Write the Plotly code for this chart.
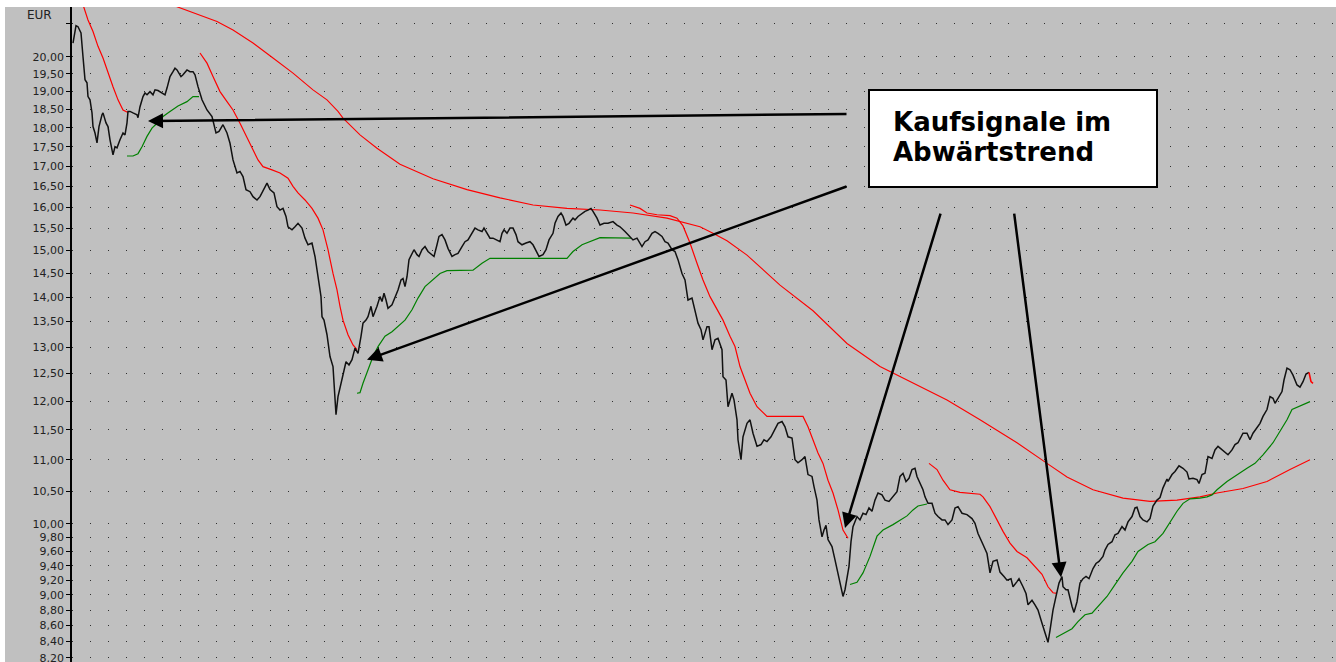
import numpy as np
import plotly.graph_objects as go

# ---------------- data (x = trading-day index, values in EUR) ----------------
price_x = [1,4,6,9,11,13,15,16,18,20,21,23,25,27,30,31,34,36,38,41,43,45,48,51,53,55,56,58,61,65,66,68,71,73,75,78,81,83,86,90,93,95,98,101,103,105,109,111,115,118,121,123,125,126,130,135,140,142,144,147,151,155,158,161,165,168,171,174,178,181,185,188,193,195,198,202,205,208,211,214,216,220,223,226,230,233,236,240,243,246,249,250,252,255,258,261,262,264,266,269,271,274,277,280,283,286,289,291,294,296,299,301,305,308,310,312,314,316,320,323,326,329,331,333,335,337,340,342,345,347,350,353,356,360,362,365,367,370,373,376,380,383,386,390,393,396,400,403,406,410,412,415,418,421,425,428,430,432,435,438,441,444,446,450,454,458,461,465,467,471,474,477,481,483,486,489,491,494,497,501,503,506,510,513,516,519,521,525,528,532,536,541,545,548,553,558,561,565,568,570,573,576,580,583,586,590,593,596,600,603,606,610,613,616,620,623,626,629,631,635,637,640,643,646,650,651,654,656,658,660,662,665,666,669,671,675,678,681,685,689,692,695,699,703,706,710,713,716,720,723,726,730,733,736,740,742,745,747,750,752,754,756,760,763,766,769,771,773,775,777,779,781,785,788,791,794,797,800,803,806,810,813,817,821,825,828,831,834,837,840,843,845,848,851,853,856,860,863,866,870,873,876,880,883,886,890,895,900,903,906,911,915,918,921,925,928,932,935,939,941,945,947,951,954,956,960,963,966,970,973,976,978,981,984,987,990,991,994,996,1000,1002,1005,1008,1011,1014,1017,1021,1024,1027,1031,1033,1036,1040,1043,1046,1050,1053,1056,1060,1063,1065,1068,1071,1075,1078,1081,1085,1088,1091,1095,1096,1100,1103,1107,1111,1115,1117,1121,1125,1127,1130,1133,1136,1140,1143,1146,1150,1153,1156,1160,1163,1166,1169,1171,1175,1178,1181,1185,1188,1191,1195,1198,1201,1203,1206,1210,1212,1215,1218,1221,1225,1228,1231,1234,1237]
price_v = [20.41,20.94,20.91,20.72,20.00,19.33,19.24,18.85,18.76,18.40,18.03,17.86,17.60,18.03,18.35,18.40,18.13,18.03,17.68,17.29,17.50,17.47,17.68,17.86,17.81,18.13,18.44,18.44,18.40,18.35,18.27,18.57,18.85,18.95,18.90,18.99,18.90,19.04,19.02,18.95,18.90,19.09,19.42,19.56,19.66,19.61,19.42,19.47,19.61,19.56,19.56,19.47,19.23,19.13,18.76,18.48,18.30,18.08,17.86,17.90,18.08,17.86,17.59,17.16,16.83,16.87,16.74,16.42,16.37,16.25,16.17,16.25,16.50,16.58,16.42,16.34,16.01,15.93,15.97,15.78,15.54,15.47,15.54,15.62,15.51,15.28,15.13,15.17,14.87,14.43,14.01,13.60,13.53,13.24,12.82,12.63,12.26,11.76,12.08,12.32,12.51,12.72,12.66,12.76,12.98,12.88,13.21,13.47,13.53,13.60,13.81,13.60,13.81,14.01,13.91,14.08,13.94,13.77,13.84,13.98,14.15,14.36,14.39,14.22,14.43,14.80,14.94,15.02,14.91,14.87,15.02,15.09,14.98,14.91,14.87,15.13,15.32,15.36,15.24,15.05,14.87,14.91,14.94,15.09,15.20,15.24,15.39,15.51,15.47,15.43,15.51,15.39,15.28,15.28,15.24,15.20,15.39,15.47,15.39,15.51,15.51,15.36,15.20,15.13,15.17,15.20,15.13,14.94,14.87,14.91,15.02,15.24,15.39,15.62,15.78,15.86,15.78,15.58,15.62,15.74,15.70,15.78,15.86,15.90,15.93,15.97,15.90,15.74,15.58,15.62,15.62,15.66,15.58,15.54,15.43,15.32,15.24,15.28,15.17,15.09,15.20,15.24,15.39,15.43,15.39,15.32,15.20,15.17,15.02,14.98,14.80,14.50,14.36,13.94,13.98,13.74,13.47,13.34,13.14,13.40,13.40,12.95,13.14,13.17,12.95,12.44,12.38,11.90,12.02,12.14,12.02,11.67,11.33,11.00,11.38,11.61,11.67,11.44,11.22,11.25,11.33,11.30,11.38,11.50,11.61,11.64,11.55,11.38,11.36,11.00,10.95,11.00,11.05,10.76,10.73,10.57,10.36,10.06,9.81,9.91,9.98,9.77,9.67,9.48,9.30,9.11,8.98,9.07,9.25,9.39,9.74,9.96,10.11,10.06,10.16,10.14,10.24,10.19,10.36,10.47,10.44,10.36,10.34,10.41,10.49,10.73,10.78,10.65,10.70,10.84,10.86,10.73,10.62,10.52,10.41,10.31,10.31,10.16,10.11,10.06,10.06,9.99,10.06,10.24,10.26,10.16,10.14,10.08,10.01,9.86,9.70,9.57,9.30,9.46,9.48,9.31,9.25,9.20,9.22,9.11,9.18,9.22,9.11,9.02,8.87,8.93,8.87,8.80,8.63,8.50,8.39,8.54,8.80,8.98,9.16,9.25,9.11,9.07,9.07,8.85,8.77,8.91,9.16,9.22,9.25,9.22,9.36,9.43,9.46,9.53,9.62,9.70,9.74,9.84,9.86,9.96,9.91,10.03,10.11,10.24,10.25,10.11,10.06,10.03,10.08,10.27,10.36,10.40,10.55,10.69,10.65,10.76,10.81,10.90,10.86,10.80,10.69,10.70,10.68,10.62,10.76,10.78,11.05,11.02,11.16,11.22,11.16,11.11,11.08,11.16,11.25,11.28,11.38,11.44,11.44,11.33,11.44,11.53,11.61,11.73,11.85,12.08,12.05,11.96,12.05,12.17,12.38,12.60,12.57,12.47,12.29,12.25,12.35,12.49,12.52]
assert len(price_x) == len(price_v), (len(price_x), len(price_v))

# last bar (red)
last_x = [1237, 1239, 1241]
last_v = [12.52, 12.35, 12.32]

# long moving average (red)
ma_x = [104,128,145,161,181,201,221,241,255,266,271,288,305,328,348,361,395,428,461,495,528,561,595,628,641,655,675,690,708,741,775,808,841,875,908,945,975,995,1021,1051,1078,1105,1128,1145,1171,1195,1218,1238]
ma_v = [21.55,21.28,21.07,20.81,20.41,19.96,19.52,19.04,18.76,18.44,18.26,17.81,17.46,17.05,16.82,16.69,16.42,16.22,16.05,15.97,15.93,15.86,15.74,15.54,15.39,15.22,14.90,14.60,14.25,13.72,13.07,12.63,12.32,12.02,11.67,11.28,10.94,10.72,10.52,10.39,10.34,10.36,10.41,10.47,10.54,10.65,10.84,11.00]

# trailing stops in downtrend (red)
dn1_x = [10,16,21,26,31,36,41,46,51,56]
dn1_v = [21.70,21.12,20.76,20.31,19.96,19.52,19.13,18.76,18.48,18.41]
dn2_x = [128,135,141,148,155,161,168,175,181,186,191,200,208,216,221,226,233,240,246,251,256,261,265,268,271,276,281,285]
dn2_v = [20.11,19.81,19.42,18.99,18.71,18.48,18.12,17.76,17.42,17.16,16.99,16.91,16.83,16.70,16.50,16.34,16.17,15.97,15.74,15.47,15.02,14.50,14.15,13.81,13.53,13.24,13.04,12.95]
dn3_x = [558,568,575,585,598,605,611,618,625,631,638,645,651,658,663,668,673,678,685,695,708,731,736,741,746,751,756,761,766,771,776]
dn3_v = [16.05,15.97,15.86,15.82,15.80,15.74,15.56,15.17,14.72,14.36,14.01,13.74,13.53,13.21,13.01,12.63,12.38,12.14,11.90,11.73,11.73,11.73,11.55,11.33,11.11,10.94,10.67,10.47,10.21,9.91,9.79]
dn4_x = [857,865,871,878,888,898,908,911,918,925,931,938,945,955,963,970,976,981,985]
dn4_v = [10.94,10.84,10.67,10.52,10.48,10.47,10.45,10.41,10.26,10.06,9.89,9.72,9.60,9.51,9.39,9.28,9.11,9.03,9.02]

# trailing stops in uptrend (green)
up1_x = [55,61,66,70,75,80,85,91,98,106,115,121,127]
up1_v = [17.26,17.26,17.32,17.50,17.77,17.99,18.12,18.30,18.44,18.59,18.71,18.85,18.85]
up2_x = [285,288,291,296,301,306,313,320,326,333,340,346,353,360,368,375,401,410,418,495,501,510,518,528,559]
up2_v = [12.14,12.15,12.32,12.57,12.82,13.01,13.21,13.30,13.40,13.53,13.74,13.98,14.22,14.36,14.50,14.56,14.57,14.72,14.83,14.83,14.98,15.13,15.20,15.29,15.28]
up3_x = [778,785,791,798,805,811,821,828,835,841,846,855]
up3_v = [9.14,9.17,9.30,9.53,9.82,9.91,9.99,10.06,10.12,10.21,10.27,10.30]
up4_x = [984,991,1000,1006,1013,1020,1026,1035,1043,1051,1060,1066,1076,1083,1091,1098,1105,1111,1118,1128,1135,1140,1145,1155,1165,1175,1183,1191,1201,1210,1215,1220,1226,1233,1238]
up4_v = [8.45,8.50,8.56,8.65,8.74,8.76,8.85,8.98,9.14,9.30,9.46,9.60,9.70,9.74,9.86,10.02,10.19,10.31,10.38,10.39,10.41,10.44,10.52,10.65,10.76,10.86,10.94,11.08,11.28,11.53,11.67,11.85,11.90,11.96,11.99]

# y tick levels and labels
tick_vals = [8.2,8.4,8.6,8.8,9.0,9.2,9.4,9.6,9.8,10.0,10.5,11.0,11.5,12.0,12.5,13.0,13.5,14.0,14.5,
             15.0,15.5,16.0,16.5,17.0,17.5,18.0,18.5,19.0,19.5,20.0,21.0]
tick_text = ["8,20","8,40","8,60","8,80","9,00","9,20","9,40","9,60","9,80","10,00","10,50","11,00",
             "11,50","12,00","12,50","13,00","13,50","14,00","14,50","15,00","15,50","16,00","16,50",
             "17,00","17,50","18,00","18,50","19,00","19,50","20,00",""]

# arrows: (tip_x, tip_value, tail_x, tail_value)
arrow_tips_x = [76, 295, 773, 989]
arrow_tips_v = [18.18, 12.76, 9.94, 9.24]
arrow_tail_x = [776, 776, 869, 942]
arrow_tail_v = [18.37, 16.51, 15.88, 15.88]

box_lines = ["Kaufsignale im", "Abwärtstrend"]

# ---------------- figure ----------------
RED = "#FF0000"
GREEN = "#008000"
fig = go.Figure()

def add_line(x, v, color, width):
    fig.add_trace(go.Scatter(x=x, y=v, mode="lines", line=dict(color=color, width=width),
                             hoverinfo="skip", showlegend=False))

add_line(ma_x, ma_v, RED, 1.1)
for xs, vs in [(dn1_x, dn1_v), (dn2_x, dn2_v), (dn3_x, dn3_v), (dn4_x, dn4_v)]:
    add_line(xs, vs, RED, 1.2)
for xs, vs in [(up1_x, up1_v), (up2_x, up2_v), (up3_x, up3_v), (up4_x, up4_v)]:
    add_line(xs, vs, GREEN, 1.2)
add_line(price_x, price_v, "#111111", 1.5)
add_line(last_x, last_v, RED, 1.6)

W, H = 1336, 662
L, T = 72, 7
PW, PH = W - L, H - T

def px_x(p):
    return (p - L) / PW

def px_y(p):
    return (H - p) / PH

annotations = []
for tx, tv, ax, av in zip(arrow_tips_x, arrow_tips_v, arrow_tail_x, arrow_tail_v):
    annotations.append(dict(x=tx, y=np.log10(tv), ax=ax, ay=np.log10(av), xref="x", yref="y",
                            axref="x", ayref="y", text="", showarrow=True, arrowhead=2,
                            arrowsize=1.2, arrowwidth=2.5, arrowcolor="black"))

annotations.append(dict(x=px_x(891), y=px_y(121.5), xref="paper", yref="paper", text=box_lines[0],
                        showarrow=False, xanchor="left", yanchor="middle",
                        font=dict(family="DejaVu Sans", size=26, color="black", weight="bold")))
annotations.append(dict(x=px_x(891), y=px_y(151.5), xref="paper", yref="paper", text=box_lines[1],
                        showarrow=False, xanchor="left", yanchor="middle",
                        font=dict(family="DejaVu Sans", size=26, color="black", weight="bold")))
annotations.append(dict(x=px_x(25), y=px_y(15), xref="paper", yref="paper", text="EUR",
                        showarrow=False, xanchor="left", yanchor="middle",
                        font=dict(family="DejaVu Sans", size=12, color="#222")))

shapes = [
    dict(type="rect", xref="paper", yref="paper", x0=px_x(5), x1=0, y0=0, y1=1,
         fillcolor="#C0C0C0", line=dict(width=0), layer="below"),
    dict(type="rect", xref="paper", yref="paper", x0=px_x(869), x1=px_x(1157), y0=px_y(187), y1=px_y(90),
         fillcolor="white", line=dict(color="black", width=2), layer="above"),
]

fig.update_layout(
    width=W, height=H,
    margin=dict(l=L, r=0, t=T, b=0, autoexpand=False),
    paper_bgcolor="white", plot_bgcolor="#C0C0C0",
    showlegend=False, hovermode=False,
    annotations=annotations, shapes=shapes,
    xaxis=dict(range=[0, PW], showgrid=False, zeroline=False, showline=False,
               showticklabels=False, ticks=""),
    yaxis=dict(type="log", range=[np.log10(8.148), np.log10(21.53)],
               tickmode="array", tickvals=tick_vals, ticktext=tick_text,
               ticks="outside", ticklen=4, tickwidth=1, tickcolor="black",
               ticklabeloverflow="allow",
               showline=True, linecolor="black", linewidth=1.5,
               showgrid=True, gridcolor="#303030", gridwidth=1, griddash="1px,17px",
               zeroline=False, tickfont=dict(family="DejaVu Sans", size=11, color="#222")),
)

fig.write_html("out.html", config={"displayModeBar": False},
               post_script="document.body.style.margin='0';document.body.style.overflow='hidden';")
